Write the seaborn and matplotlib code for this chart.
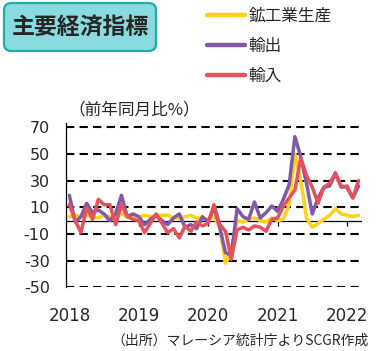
import matplotlib
matplotlib.use('Agg')
import matplotlib.pyplot as plt
from matplotlib.patches import FancyBboxPatch
import seaborn as sns
import pandas as pd

# month-on-month data, Jan 2018 - Mar 2022 (YoY %)
months = pd.date_range('2018-01-01', '2022-03-01', freq='MS')
ipi = [3, 4, 3, 4, 3, 2, 4, 3, 3, 5, 3, 3,
       3, 4, 3, 4, 4, 4, 2, 2, 3, 4, 2, 2,
       1, 3, -5, -32, -22, 0, -1, 1, 2, 0, -1, 2,
       0, 1, 12, 50, 30, 2, -5, -2, 1, 4, 9, 5,
       4, 3, 4]
exports = [19, -1, 3, 13, 6, 8, 5, 0, 5, 19, 3, 5,
           3, -3, 1, 4, 0, -3, 2, 5, -5, -3, -6, 3,
           -1, 10, -5, -24, -26, 9, 3, 1, 14, 2, 6, 11,
           7, 16, 27, 63, 48, 28, 5, 17, 25, 26, 35, 26,
           25, 17, 26]
imports = [12, 0, -9, 10, 1, 16, 12, 12, -3, 12, 3, 1,
           0, -9, -2, 5, -2, -9, -6, -13, -4, -8, -1, -4,
           -2, 12, -3, -8, -29, -7, -5, -7, -4, -5, -8, 1,
           2, 11, 17, 23, 47, 34, 25, 13, 25, 28, 36, 25,
           26, 17, 30]
series_names = ['鉱工業生産', '輸出', '輸入']
colors = ['#FFD21A', '#8159A6', '#E8505B']
yticks = [70, 50, 30, 10, -10, -30, -50]
years = [2018, 2019, 2020, 2021, 2022]

df = pd.DataFrame({'date': months, series_names[0]: ipi,
                   series_names[1]: exports, series_names[2]: imports})
df['idx'] = (df.date.dt.year - 2018) * 12 + df.date.dt.month - 1
long = df.melt(id_vars=['date', 'idx'], value_vars=series_names,
               var_name='series', value_name='value')

sns.set_style('white')
plt.rcParams['font.family'] = ['DejaVu Sans', 'Noto Sans CJK JP']
jp = ['Noto Sans CJK JP', 'DejaVu Sans']

fig = plt.figure(figsize=(3.85, 3.51), dpi=100)
ax = fig.add_axes([0.1727, 0.1815, 0.7676, 0.4672])

for y in yticks:
    ax.axhline(y, color='black', lw=1.5, ls=(0, (4, 2.5)), zorder=1)
ax.axhline(0, color='black', lw=0.9, zorder=1)
year_idx = [(y - 2018) * 12 for y in years]
ax.vlines(year_idx[1:], -4, 0, color='black', lw=0.9, zorder=1)

sns.lineplot(data=long, x='idx', y='value', hue='series',
             hue_order=series_names, palette=colors, lw=2.5,
             ax=ax, zorder=3)

ax.set_xlim(-0.5, 50.6)
ax.set_ylim(-50, 73)
ax.set_yticks(yticks)
ax.set_yticklabels([str(v) for v in yticks])
ax.set_xticks(year_idx)
ax.set_xticklabels([str(y) for y in years])
ax.tick_params(axis='y', length=0, pad=12, labelsize=11.5)
ax.tick_params(axis='x', length=0, pad=14, labelsize=12)
ax.set_xlabel('')
ax.set_ylabel('')
for s in ['top', 'right', 'bottom']:
    ax.spines[s].set_visible(False)
ax.spines['left'].set_color('black')
ax.spines['left'].set_linewidth(0.9)

leg = ax.legend(loc='upper left', bbox_to_anchor=(0.475, 1.703),
                frameon=False, handlelength=2.3, handletextpad=0.2,
                borderpad=0, borderaxespad=0,
                labelspacing=0.78, prop={'family': jp, 'size': 12})
for line in leg.get_lines():
    line.set_linewidth(3.2)

# title box
box = FancyBboxPatch((4 / 385, 1 - 51 / 351), 152 / 385, 48 / 351,
                     boxstyle='round,pad=0,rounding_size=0.02',
                     transform=fig.transFigure, facecolor='#8ADBDF',
                     edgecolor='#1AB0A8', lw=1.6)
fig.patches.append(box)
fig.text(80 / 385, 1 - 27 / 351, '主要経済指標', family=jp, fontsize=16.5,
         fontweight='bold', ha='center', va='center')
fig.text(68 / 385, 1 - 110 / 351, '（前年同月比%）', family=jp, fontsize=12,
         ha='left', va='center')
fig.text(369 / 385, 1 - 341 / 351, '（出所）マレーシア統計庁よりSCGR作成',
         family=jp, fontsize=10, ha='right', va='center')

fig.savefig('out.png', dpi=100)
